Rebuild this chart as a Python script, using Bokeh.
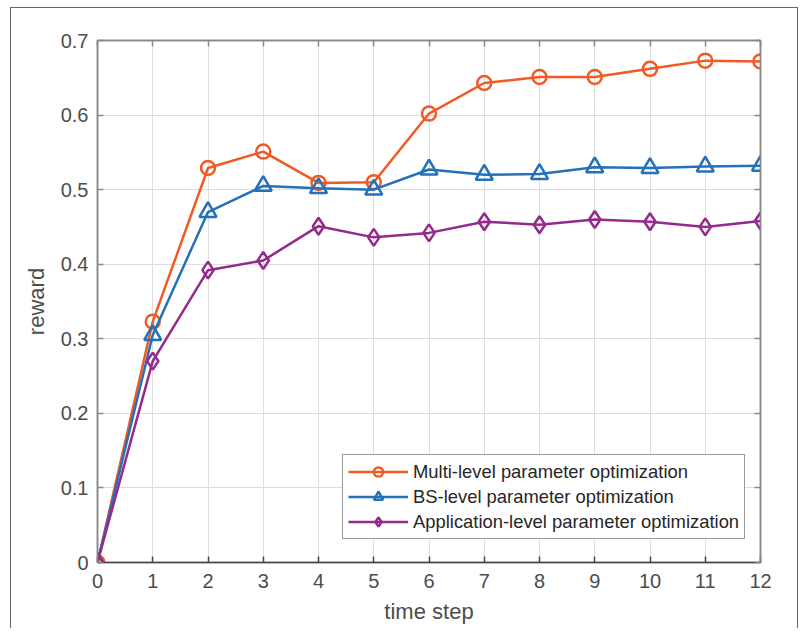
from bokeh.plotting import figure
from bokeh.models import LinearAxis, FixedTicker, CustomJSTickFormatter, Legend
from bokeh.embed import file_html
from bokeh.resources import INLINE

steps = list(range(13))
multi_level = [0.0, 0.323, 0.529, 0.551, 0.509, 0.510, 0.602, 0.643, 0.651, 0.651, 0.662, 0.673, 0.672]
bs_level = [0.0, 0.305, 0.470, 0.505, 0.502, 0.500, 0.527, 0.520, 0.521, 0.530, 0.529, 0.531, 0.532]
app_level = [0.0, 0.270, 0.392, 0.405, 0.451, 0.436, 0.442, 0.457, 0.453, 0.460, 0.457, 0.450, 0.458]
x_ticks = list(range(13))
y_ticks = [0, 0.1, 0.2, 0.3, 0.4, 0.5, 0.6, 0.7]
labels = ["Multi-level parameter optimization", "BS-level parameter optimization",
          "Application-level parameter optimization"]
colors = ["#F15A24", "#2371B8", "#952A8C"]

FONT = "Liberation Sans"

p = figure(frame_width=663, frame_height=522, x_range=(0, 12), y_range=(0, 0.7),
           output_backend="svg", toolbar_location=None,
           min_border_left=86, min_border_top=32, min_border_right=37, min_border_bottom=66,
           background_fill_color="white", border_fill_color="white")
p.styles = {"border-left": "1px solid #666", "border-top": "1px solid #666",
            "border-right": "1px solid #666", "margin-left": "10px", "margin-top": "7px"}

p.outline_line_color = "#888888"
p.outline_line_width = 1.5

fmt = CustomJSTickFormatter(code="return tick == 0 ? '0' : tick.toFixed(1);")

def style_axis(ax, show_labels=True, color="#888888"):
    ax.major_tick_in = 6
    ax.major_tick_out = 0
    ax.minor_tick_in = 0
    ax.minor_tick_out = 0
    ax.axis_line_color = color
    ax.axis_line_width = 1.5
    ax.major_tick_line_color = color
    ax.major_tick_line_width = 1.5
    ax.major_label_text_font = FONT
    ax.major_label_text_font_size = "20px"
    ax.major_label_text_color = "#4d4d4d" if show_labels else None
    ax.axis_label_text_font = FONT
    ax.axis_label_text_font_size = "22px"
    ax.axis_label_text_font_style = "normal"
    ax.axis_label_text_color = "#4d4d4d"

p.xaxis.ticker = FixedTicker(ticks=x_ticks)
p.yaxis.ticker = FixedTicker(ticks=y_ticks)
p.yaxis.formatter = fmt
p.xaxis.axis_label = "time step"
p.yaxis.axis_label = "reward"
style_axis(p.xaxis[0], color="#444444")
style_axis(p.yaxis[0])
p.xaxis.major_label_standoff = 11
p.yaxis.major_label_standoff = 9
p.xaxis.axis_label_standoff = 8
p.yaxis.axis_label_standoff = 9

top = LinearAxis(ticker=FixedTicker(ticks=x_ticks))
style_axis(top, show_labels=False)
top.major_label_text_font_size = "0px"
p.add_layout(top, "above")
right = LinearAxis(ticker=FixedTicker(ticks=y_ticks))
style_axis(right, show_labels=False)
right.major_label_text_font_size = "0px"
p.add_layout(right, "right")

p.xgrid.ticker = FixedTicker(ticks=x_ticks)
p.ygrid.ticker = FixedTicker(ticks=y_ticks)
p.grid.grid_line_color = "#dedede"
p.grid.grid_line_width = 1

items = []
series = [multi_level, bs_level, app_level]
markers = ["circle", "triangle", "diamond"]
sizes = [14, 17, 17]
for ys, lab, col, mk, sz in zip(series, labels, colors, markers, sizes):
    l = p.line(steps, ys, line_color=col, line_width=2.5)
    s = p.scatter(steps, ys, marker=mk, size=sz, line_color=col, line_width=2.5,
                  fill_color="white", fill_alpha=0.0)
    items.append((lab, [l, s]))

legend = Legend(items=items, location=(245, 23))
legend.label_text_font = FONT
legend.label_text_font_size = "18.4px"
legend.label_text_color = "#262626"
legend.glyph_width = 60
legend.glyph_height = 23
legend.label_height = 23
legend.spacing = 2
legend.padding = 5
legend.margin = 0
legend.label_standoff = 5
legend.border_line_color = "#333333"
legend.border_line_width = 1
legend.background_fill_color = "white"
legend.background_fill_alpha = 1.0
p.add_layout(legend, "center")

open("out.html", "w").write(file_html(p, INLINE))
